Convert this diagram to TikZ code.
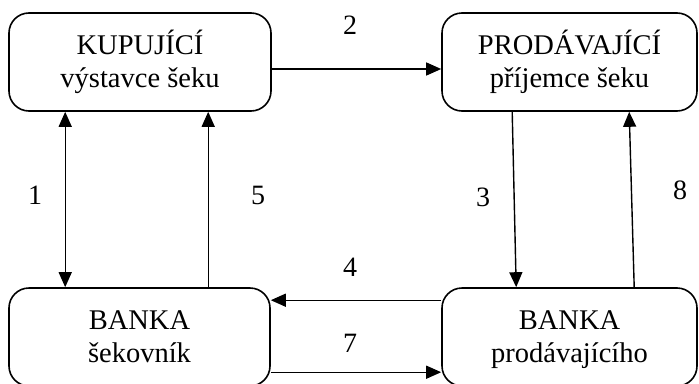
\documentclass[tikz,border=0pt]{standalone}
\usepackage{fontspec}
\setmainfont{Liberation Serif}
\usetikzlibrary{arrows.meta}
\newcommand\lnstrut{\rule[-8pt]{0pt}{33pt}}
\begin{document}
\begin{tikzpicture}[x=1pt,y=-1pt,
  box/.style={draw, line width=1.6pt, rounded corners=20pt, align=center,
    font=\fontsize{28.5}{33}\selectfont, inner sep=0pt},
  lbl/.style={font=\fontsize{28}{30}\selectfont, inner sep=0pt},
  conn/.style={line width=1.4pt, -{Triangle[length=15pt,width=13pt]}},
  dconn/.style={line width=1.4pt, {Triangle[length=15pt,width=13pt]}-{Triangle[length=15pt,width=13pt]}}]
\useasboundingbox (0,0) rectangle (699,383);
\clip (0,0) rectangle (699,383);
\node[box, minimum width=262pt, minimum height=98pt] (tl) at (140,62) {\lnstrut KUPUJÍCÍ\\\lnstrut výstavce šeku};
\node[box, minimum width=255pt, minimum height=98pt] (tr) at (569.5,62) {\lnstrut PRODÁVAJÍCÍ\\\lnstrut příjemce šeku};
\node[box, minimum width=261pt, minimum height=98pt] (bl) at (139.5,337) {\lnstrut BANKA\\\lnstrut šekovník};
\node[box, minimum width=255pt, minimum height=98pt] (br) at (569.5,337) {\lnstrut BANKA\\\lnstrut prodávajícího};
% connectors
\draw[conn] ([yshift=-7pt]tl.east) -- ([yshift=-7pt]tr.west);
\draw[dconn] ([xshift=57pt]tl.south west) -- ([xshift=57pt]bl.north west);
\draw[conn] ([xshift=200pt]bl.north west) -- ([xshift=200pt]tl.south west);
\draw[conn] ([xshift=71pt]tr.south west) -- ([xshift=75pt]br.north west);
\draw[conn] ([xshift=193pt]br.north west) -- ([xshift=188pt]tr.south west);
\draw[conn] ([yshift=-13pt]br.north west) -- ([yshift=-13pt]bl.north east);
\draw[conn] ([yshift=-85pt]bl.north east) -- ([yshift=-85pt]br.north west);
% labels
\node[lbl] (l2) at (350,25) {2};
\node[lbl] (l1) at (35,195) {1};
\node[lbl] (l5) at (258,195) {5};
\node[lbl] (l3) at (483,197) {3};
\node[lbl] (l8) at (680,190) {8};
\node[lbl] (l4) at (350,267) {4};
\node[lbl] (l7) at (350,343) {7};
\end{tikzpicture}
\end{document}
